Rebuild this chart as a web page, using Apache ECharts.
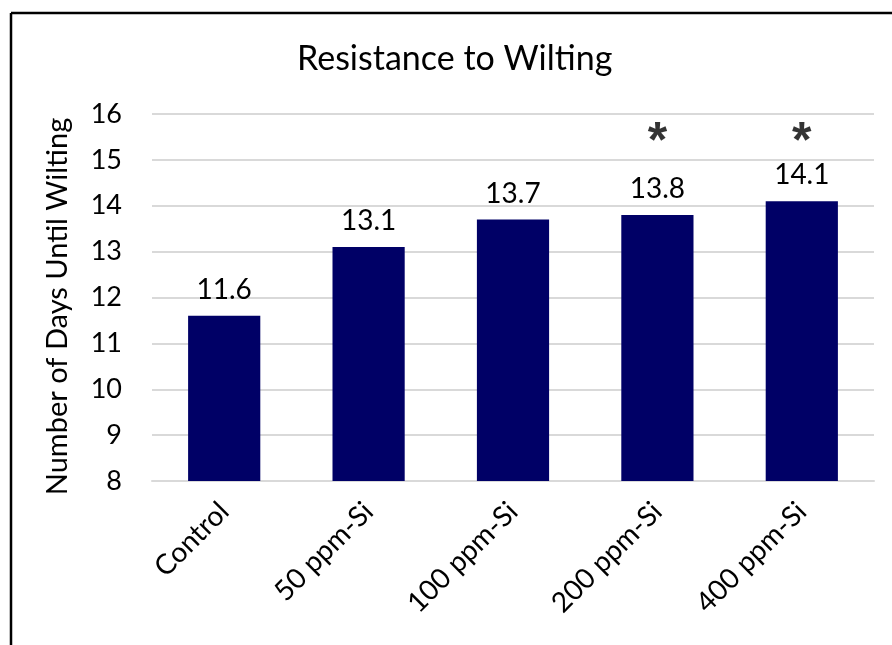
<!DOCTYPE html>
<html><head><meta charset="utf-8">
<script src="https://cdn.jsdelivr.net/npm/echarts@6/dist/echarts.min.js"></script>
<style>html,body{margin:0;padding:0;background:#fff}#c{width:892px;height:645px}</style>
</head><body><div id="c"></div>
<script>
const categories = ['Control', '50 ppm-Si', '100 ppm-Si', '200 ppm-Si', '400 ppm-Si'];
const daysUntilWilting = [11.6, 13.1, 13.7, 13.8, 14.1];
const significance = ['', '', '', '*', '*'];
const yTicks = [8, 9, 10, 11, 12, 13, 14, 15, 16];
const starLevel = 15.62;

const FONT = 'Lato';
const chart = echarts.init(document.getElementById('c'), null, {renderer: 'canvas'});
chart.setOption({
  animation: false,
  textStyle: {fontFamily: FONT, color: '#000'},
  title: {
    text: 'Resistance to Wilting', left: 297, top: 42, padding: 0,
    textStyle: {fontFamily: FONT, fontSize: 34, fontWeight: 'normal', color: '#000'}
  },
  graphic: [
    {type: 'line', shape: {x1: 11, y1: 13, x2: 892, y2: 13}, style: {stroke: '#000', lineWidth: 2.5}},
    {type: 'line', shape: {x1: 11, y1: 13, x2: 11, y2: 645}, style: {stroke: '#000', lineWidth: 2.5}}
  ],
  grid: {left: 152, right: 18, top: 114, bottom: 164},
  xAxis: {
    type: 'category', data: categories,
    axisTick: {show: false},
    axisLine: {lineStyle: {color: '#d9d9d9', width: 2}},
    axisLabel: {rotate: 45, fontSize: 28, color: '#000', margin: 26, fontFamily: FONT}
  },
  yAxis: {
    type: 'value', min: yTicks[0], max: yTicks[yTicks.length - 1], interval: 1,
    name: 'Number of Days Until Wilting', nameLocation: 'middle', nameGap: 80,
    nameTextStyle: {fontSize: 29, color: '#000', fontFamily: FONT, padding: [0, 18, 0, 0]},
    axisLine: {show: false}, axisTick: {show: false},
    axisLabel: {fontSize: 27, color: '#000', margin: 30, fontFamily: FONT},
    splitLine: {lineStyle: {color: '#d9d9d9', width: 2}}
  },
  series: [
    {
      type: 'bar', data: daysUntilWilting, barWidth: '50%',
      itemStyle: {color: '#000066'},
      label: {show: true, position: 'top', distance: 12, fontSize: 28, color: '#000', fontFamily: FONT,
        formatter: p => p.value.toFixed(1)}
    },
    {
      type: 'scatter', symbolSize: 0,
      data: categories.map((c, i) => significance[i] ? [c, starLevel] : [c, null]),
      label: {show: true, position: 'inside', offset: [0, 12], fontSize: 50, fontWeight: 'bold', color: '#000', fontFamily: 'Liberation Sans',
        formatter: p => significance[p.dataIndex]},
      silent: true
    }
  ]
});
</script></body></html>
